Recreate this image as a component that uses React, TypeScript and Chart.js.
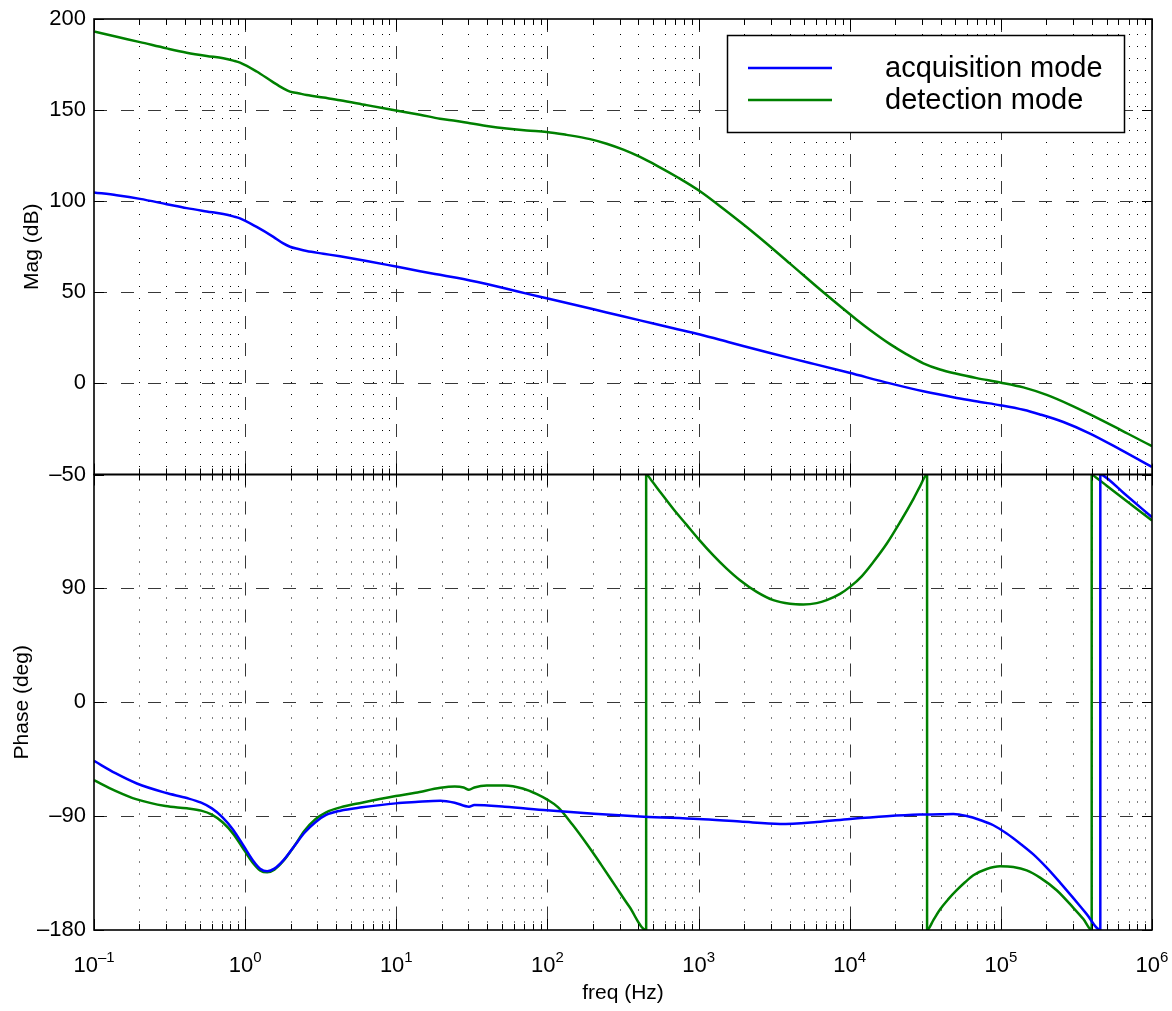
import React, { useEffect, useRef } from 'react';
import { Chart, registerables } from 'chart.js';

Chart.register(...registerables);

const FONT = '"Liberation Sans", Arial, Helvetica, sans-serif';

// ---------- data ----------
const seriesLabels = ['acquisition mode', 'detection mode'];
const seriesColors = ['#0000ff', '#008000'];

// magnitude (dB)
const magAcqFreq = [0.1, 0.1413, 0.2015, 0.3027, 0.4105, 0.5567, 0.7169, 0.835, 0.925, 1.192, 1.537, 1.788, 1.981, 2.249, 2.553, 3.292, 4.243, 6.37, 9.96, 14.35, 19.47, 25.08, 30.74, 39.63, 53.76, 72.91, 98.9, 148.4, 246.6, 409.8, 680.8, 1022, 1614, 2970, 5463, 9945, 18486, 30700, 51040, 72800, 98740, 140900, 181600, 259100, 389000, 614400, 970500, 1e6];
const magAcquisition = [104.8, 103.26, 101.27, 98.37, 96.2, 94.38, 92.94, 91.67, 90.58, 85.87, 80.43, 76.81, 75.0, 73.73, 72.65, 71.19, 69.74, 67.21, 64.13, 61.59, 59.6, 57.97, 56.52, 54.53, 51.99, 49.28, 46.73, 43.29, 38.94, 34.6, 30.25, 26.81, 22.46, 16.66, 11.22, 5.8, 0.0, -4.35, -7.97, -10.15, -11.96, -14.5, -17.03, -21.2, -27.54, -36.23, -45.3, -45.9];

const magDetFreq = [0.1, 0.1413, 0.2015, 0.3027, 0.4105, 0.5567, 0.7169, 0.835, 0.925, 1.192, 1.537, 1.788, 1.981, 2.249, 2.553, 3.292, 4.243, 6.37, 9.96, 14.35, 19.47, 25.08, 30.74, 39.63, 53.76, 72.91, 98.9, 134.1, 191.3, 246.6, 317.9, 409.8, 528.3, 734.8, 1022, 1458, 2424, 4027, 6693, 11120, 13625, 18486, 23823, 30700, 39580, 51040, 69200, 98740, 140900, 201100, 286900, 389000, 614400, 970500, 1e6];
const magDetection = [193.1, 190.22, 187.32, 183.88, 181.52, 179.71, 178.44, 177.17, 176.08, 171.19, 165.22, 161.95, 160.14, 159.24, 158.33, 156.88, 155.43, 152.72, 149.82, 147.46, 145.29, 144.02, 142.75, 141.3, 139.85, 138.77, 138.04, 136.41, 134.06, 131.52, 128.26, 124.27, 119.56, 112.86, 105.43, 95.83, 81.34, 65.76, 50.0, 34.96, 29.34, 21.55, 15.94, 11.05, 7.61, 5.25, 2.9, 0.54, -2.18, -6.34, -11.78, -17.03, -25.37, -33.88, -34.4];

// phase (deg), wrapped into [-180, 180]
const phaseAcqFreq = [0.1, 0.1386, 0.1921, 0.2971, 0.4115, 0.5116, 0.6022, 0.7091, 0.8348, 0.9827, 1.126, 1.255, 1.3996, 1.561, 1.788, 2.105, 2.478, 2.917, 3.435, 4.27, 5.918, 9.925, 13.39, 19.6, 24.36, 30.27, 32.86, 52.18, 99.13, 203.3, 435.4, 996.4, 1880, 3459, 6046, 10044, 17563, 29170, 39570, 48490, 59410, 72800, 89200, 109300, 133900, 164100, 201000, 246400, 301800, 369800, 455000, 455000, 476600, 646400, 1e6];
const phaseAcquisition = [-46.38, -56.07, -64.2, -71.53, -75.73, -79.39, -83.85, -90.92, -100.88, -113.98, -124.98, -131.53, -133.63, -131.53, -124.98, -113.98, -102.97, -94.85, -89.09, -85.68, -83.06, -79.92, -78.87, -77.82, -79.39, -82.54, -81.23, -82.54, -85.42, -88.04, -90.4, -92.23, -94.3, -96.16, -94.6, -92.23, -90.1, -88.8, -88.57, -88.31, -89.88, -93.02, -97.21, -103.76, -111.62, -120.27, -130.75, -142.54, -154.85, -167.43, -180, 180, 179.1, 165.6, 146.2];

const phaseDetFreq = [0.1, 0.1386, 0.1921, 0.2971, 0.4115, 0.5116, 0.6022, 0.7091, 0.8348, 0.9827, 1.126, 1.255, 1.3996, 1.561, 1.788, 2.105, 2.478, 2.917, 3.435, 4.27, 5.918, 9.925, 13.39, 19.6, 24.36, 27.9, 30.27, 32.86, 39.68, 52.18, 68.6, 85.2, 99.13, 117.8, 146.3, 181.8, 225.9, 280.7, 348.8, 450, 450, 489.6, 555.7, 680.8, 834.1, 996.4, 1252, 1534, 1880, 2424, 3124, 4026, 4935, 6046, 7040, 8627, 10044, 11999, 14330, 17563, 21513, 26363, 29180, 32500, 32500, 35760, 39570, 44940, 51030, 57920, 65770, 80560, 98720, 120900, 148200, 181600, 234000, 301700, 351400, 399000, 399000, 419800, 501400, 1e6];
const phaseDetection = [-61.58, -69.96, -76.77, -82.02, -83.85, -85.68, -88.83, -94.85, -104.02, -116.6, -127.08, -132.84, -134.42, -132.32, -125.51, -113.98, -101.41, -92.49, -86.99, -83.06, -79.39, -74.15, -71.53, -67.6, -66.56, -67.34, -69.18, -67.34, -65.77, -65.77, -68.13, -72.58, -76.77, -83.06, -96.69, -111.88, -128.13, -144.9, -161.67, -180, 180, 175.05, 166.4, 152.75, 140.17, 129.17, 116.07, 105.59, 96.42, 87.25, 80.69, 77.81, 77.29, 78.34, 80.69, 85.67, 91.18, 99.56, 110.83, 125.24, 142.27, 160.61, 170.6, 180, -180, -172.15, -163.76, -155.64, -148.57, -142.28, -136.78, -131.8, -129.7, -130.22, -132.84, -138.61, -148.57, -162.45, -171.36, -180, 180, 178.24, 171.14, 143.58];

const magTicks = [-50, 0, 50, 100, 150, 200];
const magTickLabels = ['\u201350', '0', '50', '100', '150', '200'];
const phaseTicks = [-180, -90, 0, 90, 180];
const phaseTickLabels = ['\u2013180', '\u201390', '0', '90', ''];
const decadeExponents = [-1, 0, 1, 2, 3, 4, 5, 6];
const decadeExponentLabels = ['\u20131', '0', '1', '2', '3', '4', '5', '6'];
const minorMultipliers = [2, 3, 4, 5, 6, 7, 8, 9];
const xTitle = 'freq (Hz)';
const magTitle = 'Mag (dB)';
const phaseTitle = 'Phase (deg)';

function pair(fs: number[], vs: number[]) {
  return fs.map((f, i) => ({ x: f, y: vs[i] }));
}

const bodePlugin = {
  id: 'bodeDecor',
  beforeDatasetsDraw(chart: any) {
    const { ctx, chartArea } = chart;
    const xs = chart.scales.x;
    const panels = [
      { s: chart.scales.yMag, ticks: magTicks },
      { s: chart.scales.yPhase, ticks: phaseTicks },
    ];
    const L = chartArea.left;
    const R = chartArea.right;
    ctx.save();
    ctx.lineWidth = 1;
    // minor dotted vertical grid
    ctx.strokeStyle = '#000';
    ctx.setLineDash([1, 11]);
    ctx.beginPath();
    for (let d = 0; d < decadeExponents.length - 1; d++) {
      for (const m of minorMultipliers) {
        const px = Math.round(xs.getPixelForValue(m * Math.pow(10, decadeExponents[d]))) + 0.5;
        for (const p of panels) {
          ctx.moveTo(px, p.s.top + 3);
          ctx.lineTo(px, p.s.bottom);
        }
      }
    }
    ctx.stroke();
    // major dashed grid
    ctx.strokeStyle = '#383838';
    ctx.setLineDash([13, 14]);
    ctx.beginPath();
    for (let d = 1; d < decadeExponents.length - 1; d++) {
      const px = Math.round(xs.getPixelForValue(Math.pow(10, decadeExponents[d]))) + 0.5;
      for (const p of panels) {
        ctx.moveTo(px, p.s.top);
        ctx.lineTo(px, p.s.bottom);
      }
    }
    for (const p of panels) {
      for (const v of p.ticks) {
        if (v === p.s.min || v === p.s.max) continue;
        const py = Math.round(p.s.getPixelForValue(v)) + 0.5;
        ctx.moveTo(L, py);
        ctx.lineTo(R, py);
      }
    }
    ctx.stroke();
    ctx.restore();
  },
  afterDatasetsDraw(chart: any) {
    const { ctx, chartArea } = chart;
    const xs = chart.scales.x;
    const ym = chart.scales.yMag;
    const yp = chart.scales.yPhase;
    const panels = [
      { s: ym, ticks: magTicks },
      { s: yp, ticks: phaseTicks },
    ];
    const L = chartArea.left;
    const R = chartArea.right;
    ctx.save();
    ctx.setLineDash([]);
    ctx.strokeStyle = '#000';
    ctx.lineWidth = 1;
    ctx.beginPath();
    for (const p of panels) {
      const T = p.s.top;
      const B = p.s.bottom;
      for (let d = 0; d < decadeExponents.length; d++) {
        const px = Math.round(xs.getPixelForValue(Math.pow(10, decadeExponents[d]))) + 0.5;
        ctx.moveTo(px, T); ctx.lineTo(px, T + 11);
        ctx.moveTo(px, B); ctx.lineTo(px, B - 11);
        if (d < decadeExponents.length - 1) {
          for (const m of minorMultipliers) {
            const qx = Math.round(xs.getPixelForValue(m * Math.pow(10, decadeExponents[d]))) + 0.5;
            ctx.moveTo(qx, T); ctx.lineTo(qx, T + 6);
            ctx.moveTo(qx, B); ctx.lineTo(qx, B - 6);
          }
        }
      }
      for (const v of p.ticks) {
        const py = Math.round(p.s.getPixelForValue(v)) + 0.5;
        ctx.moveTo(L, py); ctx.lineTo(L + 10, py);
        ctx.moveTo(R, py); ctx.lineTo(R - 10, py);
      }
    }
    ctx.stroke();
    // frames
    ctx.lineWidth = 1.6;
    for (const p of panels) {
      ctx.strokeRect(L, p.s.top, R - L, p.s.bottom - p.s.top);
    }
    // x tick labels 10^n
    ctx.fillStyle = '#000';
    ctx.textBaseline = 'alphabetic';
    ctx.textAlign = 'left';
    for (let d = 0; d < decadeExponents.length; d++) {
      const px = xs.getPixelForValue(Math.pow(10, decadeExponents[d]));
      ctx.font = `22px ${FONT}`;
      const wb = ctx.measureText('10').width;
      ctx.font = `15px ${FONT}`;
      const we = ctx.measureText(decadeExponentLabels[d]).width;
      const start = px - (wb + we) / 2;
      ctx.font = `22px ${FONT}`;
      ctx.fillText('10', start, yp.bottom + 42);
      ctx.font = `15px ${FONT}`;
      ctx.fillText(decadeExponentLabels[d], start + wb, yp.bottom + 32);
    }
    // axis titles
    ctx.font = `21px ${FONT}`;
    ctx.textAlign = 'center';
    ctx.fillText(xTitle, (L + R) / 2, yp.bottom + 69);
    ctx.textBaseline = 'middle';
    ctx.save();
    ctx.translate(32, (ym.top + ym.bottom) / 2);
    ctx.rotate(-Math.PI / 2);
    ctx.fillText(magTitle, 0, 0);
    ctx.restore();
    ctx.save();
    ctx.translate(22, (yp.top + yp.bottom) / 2);
    ctx.rotate(-Math.PI / 2);
    ctx.fillText(phaseTitle, 0, 0);
    ctx.restore();
    // legend box
    const bx = 727.5, by = 35.5, bw = 397, bh = 97;
    ctx.fillStyle = '#fff';
    ctx.fillRect(bx, by, bw, bh);
    ctx.lineWidth = 1.5;
    ctx.strokeStyle = '#000';
    ctx.strokeRect(bx, by, bw, bh);
    ctx.textAlign = 'left';
    ctx.textBaseline = 'alphabetic';
    ctx.font = `29px ${FONT}`;
    const ds = chart.data.datasets;
    for (let i = 0; i < 2; i++) {
      const ly = 68 + i * 32;
      ctx.strokeStyle = ds[i].borderColor;
      ctx.lineWidth = 2.5;
      ctx.beginPath();
      ctx.moveTo(748, ly);
      ctx.lineTo(832, ly);
      ctx.stroke();
      ctx.fillStyle = '#000';
      ctx.fillText(ds[i].label, 885, ly + 9);
    }
    ctx.restore();
  },
};

export default function App() {
  const ref = useRef<HTMLCanvasElement | null>(null);
  useEffect(() => {
    if (!ref.current) return;
    const common = {
      borderWidth: 2.5,
      pointRadius: 0,
      fill: false,
      cubicInterpolationMode: 'monotone' as const,
      clip: 0,
    };
    const chart = new Chart(ref.current, {
      type: 'line',
      data: {
        datasets: [
          { ...common, label: seriesLabels[0], borderColor: seriesColors[0], data: pair(magAcqFreq, magAcquisition), yAxisID: 'yMag' },
          { ...common, label: seriesLabels[1], borderColor: seriesColors[1], data: pair(magDetFreq, magDetection), yAxisID: 'yMag' },
          { ...common, label: seriesLabels[0] + ' phase', borderColor: seriesColors[0], data: pair(phaseAcqFreq, phaseAcquisition), yAxisID: 'yPhase' },
          { ...common, label: seriesLabels[1] + ' phase', borderColor: seriesColors[1], data: pair(phaseDetFreq, phaseDetection), yAxisID: 'yPhase' },
        ],
      },
      options: {
        responsive: false,
        maintainAspectRatio: false,
        animation: false,
        devicePixelRatio: 1,
        events: [],
        layout: { padding: { left: 8, right: 20, top: 12, bottom: 0 } },
        plugins: { legend: { display: false }, tooltip: { enabled: false } },
        scales: {
          x: {
            type: 'logarithmic',
            min: 0.1,
            max: 1e6,
            ticks: { display: false },
            grid: { display: false, drawTicks: false },
            border: { display: false },
            afterFit: (s: any) => { s.height = 81; },
          },
          yPhase: {
            type: 'linear',
            position: 'left',
            stack: 'bode',
            stackWeight: 1,
            min: -180,
            max: 180,
            afterBuildTicks: (s: any) => { s.ticks = phaseTicks.map((v) => ({ value: v })); },
            ticks: {
              color: '#000',
              padding: 8,
              font: { family: FONT, size: 22, lineHeight: 1 },
              callback: (_v: any, i: number) => phaseTickLabels[i],
            },
            grid: { display: false, drawTicks: false },
            border: { display: false },
            afterFit: (s: any) => { s.width = 86; },
          },
          yMag: {
            type: 'linear',
            position: 'left',
            stack: 'bode',
            stackWeight: 1,
            min: -50,
            max: 200,
            afterBuildTicks: (s: any) => { s.ticks = magTicks.map((v) => ({ value: v })); },
            ticks: {
              color: '#000',
              padding: 8,
              font: { family: FONT, size: 22, lineHeight: 1 },
              callback: (_v: any, i: number) => magTickLabels[i],
            },
            grid: { display: false, drawTicks: false },
            border: { display: false },
            afterFit: (s: any) => { s.width = 86; },
          },
        },
      } as any,
      plugins: [bodePlugin],
    });
    return () => chart.destroy();
  }, []);
  return (
    <div style={{ position: 'absolute', left: 0, top: 0, width: 1172, height: 1011, background: '#fff' }}>
      <canvas ref={ref} width={1172} height={1011} style={{ display: 'block' }} />
    </div>
  );
}
